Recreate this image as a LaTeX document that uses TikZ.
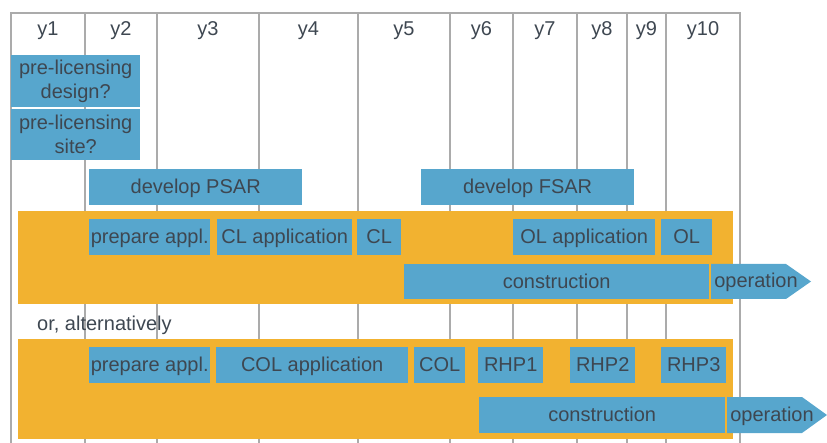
\documentclass[tikz,border=0pt]{standalone}
\usepackage{fontspec}
\setmainfont{Liberation Sans}
\definecolor{bbox}{HTML}{57A6CD}
\definecolor{obox}{HTML}{F2B230}
\definecolor{txt}{HTML}{3E4751}
\definecolor{gridc}{HTML}{ABABAB}
\begin{document}
\begin{tikzpicture}[x=1pt,y=-1pt,
  every node/.style={font=\fontsize{20}{24}\selectfont, text=txt, inner sep=0pt},
  gridline/.style={draw=gridc, line width=1.3pt},
  bluebox/.style={fill=bbox, anchor=north west, align=center},
  onel/.style={text height=15.5pt, text depth=2.5pt},
  orangebox/.style={fill=obox, anchor=north west},
  oparrow/.style={fill=bbox}]
\useasboundingbox (0,0) rectangle (827,443);
% grid
\draw[gridline] (11,443) -- (11,13) -- (740,13) -- (740,443);
\foreach \xx in {85,157,259,358,450,513,577,627,666}
  \draw[gridline] (\xx,13) -- (\xx,443);
% headers
\foreach \cx/\lab in {48/y1,121/y2,208/y3,308.5/y4,404/y5,481.5/y6,545/y7,602/y8,646.5/y9,703/y10}
  \node[onel] (h\lab) at (\cx,29.5) {\lab};
% pre-licensing
\node[bluebox, minimum width=129pt, minimum height=52pt] (pld) at (11,55) {pre-licensing\\design?};
\node[bluebox, minimum width=129pt, minimum height=51.5pt] (pls) at (11,108.5) {pre-licensing\\site?};
% SAR
\node[bluebox, onel, minimum width=213pt, minimum height=36pt] (psar) at (89,169) {develop PSAR};
\node[bluebox, onel, minimum width=213pt, minimum height=36pt] (fsar) at (421,169) {develop FSAR};
% first path
\node[orangebox, minimum width=715pt, minimum height=93pt] (or1) at (18,211) {};
\node[bluebox, onel, minimum width=121pt, minimum height=36pt] (prep1) at (89,219) {prepare appl.};
\node[bluebox, onel, minimum width=135pt, minimum height=36pt] (clapp) at (217,219) {CL application};
\node[bluebox, onel, minimum width=44pt, minimum height=36pt] (cl) at (357,219) {CL};
\node[bluebox, onel, minimum width=142pt, minimum height=36pt] (olapp) at (513,219) {OL application};
\node[bluebox, onel, minimum width=51pt, minimum height=36pt] (ol) at (661,219) {OL};
\node[bluebox, onel, minimum width=305pt, minimum height=35pt] (cons1) at (404,264) {construction};
\fill[oparrow] (711,264) -- (786,264) -- (811,281.5) -- (786,299) -- (711,299) -- cycle;
\node[onel] (op1) at (756,281.5) {operation};
% alternative
\node[onel, anchor=west] (alt) at (37,324) {or, alternatively};
\node[orangebox, minimum width=715pt, minimum height=100pt] (or2) at (18,339) {};
\node[bluebox, onel, minimum width=121pt, minimum height=36pt] (prep2) at (89,347) {prepare appl.};
\node[bluebox, onel, minimum width=192pt, minimum height=36pt] (colapp) at (216,347) {COL application};
\node[bluebox, onel, minimum width=51pt, minimum height=36pt] (col) at (414,347) {COL};
\node[bluebox, onel, minimum width=65pt, minimum height=36pt] (rhp1) at (478,347) {RHP1};
\node[bluebox, onel, minimum width=65pt, minimum height=36pt] (rhp2) at (570,347) {RHP2};
\node[bluebox, onel, minimum width=65pt, minimum height=36pt] (rhp3) at (661,347) {RHP3};
\node[bluebox, onel, minimum width=246pt, minimum height=36pt] (cons2) at (479,397) {construction};
\fill[oparrow] (727,397) -- (802,397) -- (827,415) -- (802,433) -- (727,433) -- cycle;
\node[onel] (op2) at (772,415) {operation};
\end{tikzpicture}
\end{document}
